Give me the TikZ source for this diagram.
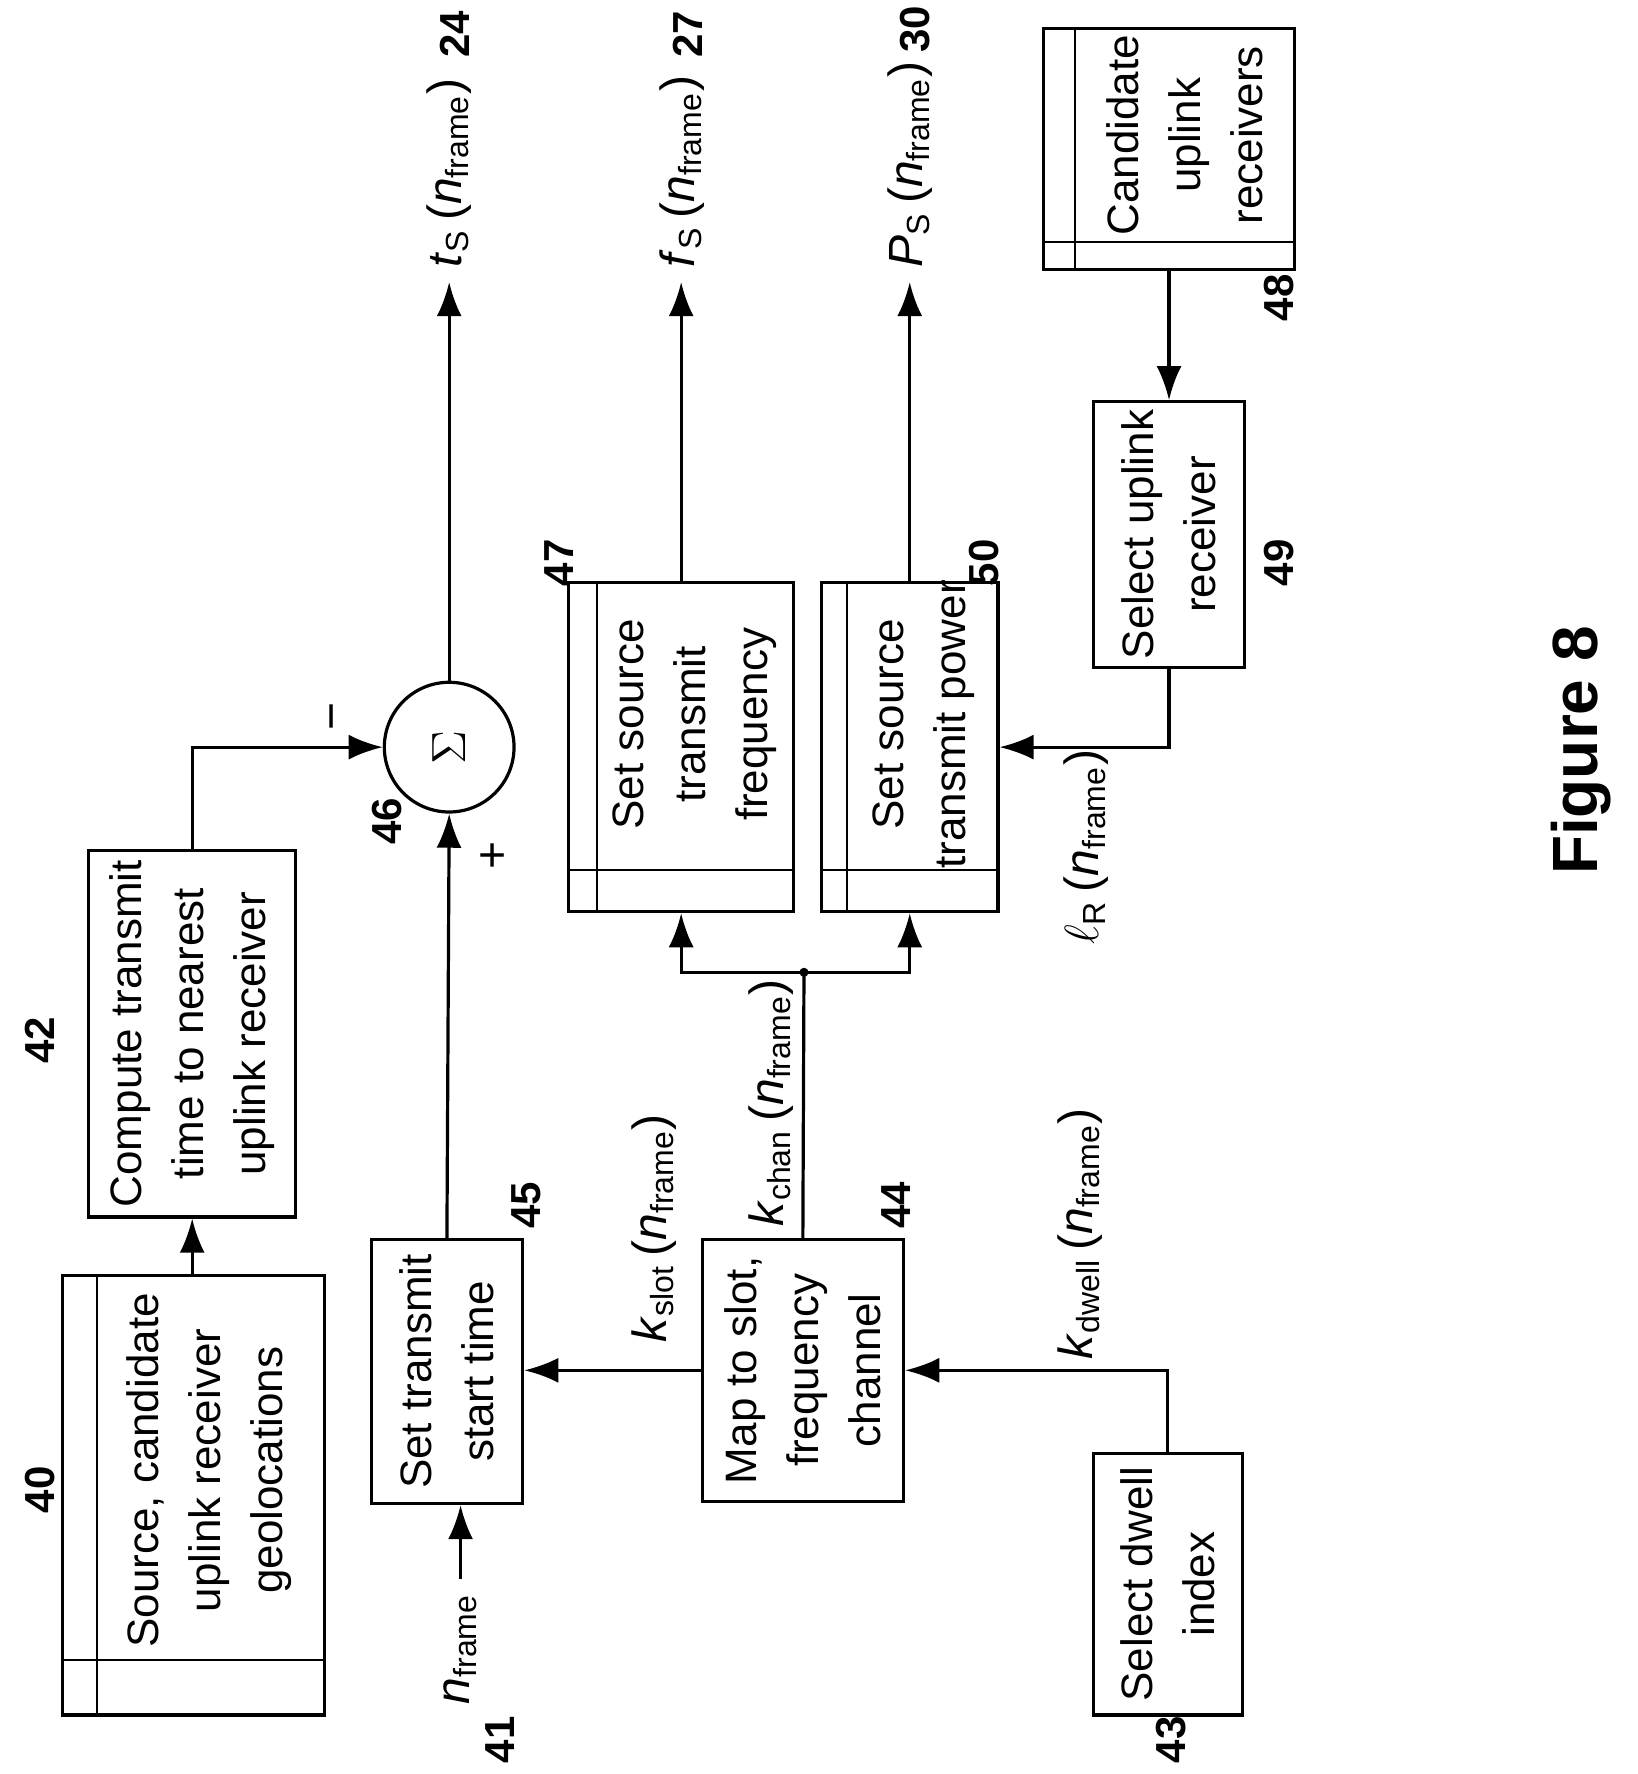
\documentclass[tikz,border=0pt]{standalone}
\usepackage{fontspec}
\setmainfont{Liberation Sans}
\usetikzlibrary{arrows.meta,calc,positioning}
\tikzset{>={Latex[length=3mm,width=2.2mm]}}
\newcommand{\sigt}[2]{\textit{#1}\textsubscript{#2}\,(\textit{n}\textsubscript{frame})}
\begin{document}
\begin{tikzpicture}[x=0.01cm, y=-0.01cm, font=\fontsize{11}{15.5}\selectfont,
    blk/.style={draw, rotate=90, align=center, inner sep=2pt},
    txt/.style={rotate=90, align=center},
    num/.style={rotate=90, font=\fontsize{10.5}{12}\selectfont\bfseries},
    sig/.style={rotate=90, font=\fontsize{12}{14}\selectfont},
    line width=0.8pt]
	\useasboundingbox (0,0) rectangle (1440,1560);
	% blocks
	\node[blk, minimum width=3.86cm, minimum height=2.30cm] (geo)   at (170,1315) {};
	\node[txt] (geo-t) at ($(geo)+(14,-22)$) {Source, candidate\\uplink receiver\\geolocations};
	\node[blk, minimum width=3.22cm, minimum height=1.82cm] (ttime) at (169,909)  {Compute transmit\\time to nearest\\uplink receiver};
	\node[blk, minimum width=2.32cm, minimum height=1.33cm] (start) at (393,1206) {Set transmit\\start time};
	\node[blk, minimum width=2.30cm, minimum height=1.77cm] (map)   at (706,1205) {Map to slot,\\frequency\\channel};
	\node[blk, minimum width=2.30cm, minimum height=1.31cm] (dwell) at (1027,1393) {Select dwell\\index};
	\node[blk, minimum width=2.89cm, minimum height=1.98cm] (freq)  at (599,657)  {};
	\node[txt] (freq-t) at ($(freq)+(12,-20)$) {Set source\\transmit\\frequency};
	\node[blk, minimum width=2.89cm, minimum height=1.55cm] (power) at (800,657)  {};
	\node[txt] (power-t) at ($(power)+(12,-20)$) {Set source\\transmit power};
	\node[blk, minimum width=2.12cm, minimum height=2.20cm] (cand)  at (1028,131) {};
	\node[txt] (cand-t) at ($(cand)+(14,-12)$) {Candidate\\uplink\\receivers};
	\node[blk, minimum width=2.30cm, minimum height=1.33cm] (sel)   at (1028,470) {Select uplink\\receiver};
	\node[draw, circle, minimum size=1.14cm, rotate=90, font=\fontsize{13}{15}\selectfont] (sum) at (395,657) {$\Sigma$};
	% strips
	\draw[line width=0.5pt] (85,1122) -- (85,1508) (55,1460) -- (285,1460);
	\draw[line width=0.5pt] (525,513) -- (525,802) (500,765) -- (698,765);
	\draw[line width=0.5pt] (745,513) -- (745,802) (723,765) -- (878,765);
	\draw[line width=0.5pt] (945,25) -- (945,237) (918,213) -- (1138,213);
	% signals
	\node[sig] (nin)   at (405,1450) {\textit{n}\textsubscript{frame}};
	\node[sig, anchor=west] (ts) at (395,248) {\sigt{t}{S}};
	\node[sig, anchor=west] (fs) at (600,248) {\sigt{f}{S}};
	\node[sig, anchor=west] (ps) at (800,248) {\sigt{P}{S}};
	\node[sig] at (575,1080) {\sigt{k}{slot}};
	\node[sig] at (678,970)  {\sigt{k}{chan}};
	\node[sig] at (950,1085) {\sigt{k}{dwell}};
	\node[sig] at (955,745)  {\sigt{$\ell$}{R}};
	\node[sig] at (435,752) {+};
	\node[sig] at (298,630) {\textminus};
	% numbers
	\node[num] at (35,1310) {40};
	\node[num] at (440,1530) {41};
	\node[num] at (35,915) {42};
	\node[num] at (1030,1530) {43};
	\node[num] at (788,1060) {44};
	\node[num] at (463,1060) {45};
	\node[num] at (340,722) {46};
	\node[num] at (492,495) {47};
	\node[num] at (1125,262) {48};
	\node[num] at (1125,495) {49};
	\node[num] at (865,495) {50};
	\node[num] at (400,30) {24};
	\node[num] at (605,30) {27};
	\node[num] at (805,26) {30};
	\node[rotate=90, font=\fontsize{16}{18}\selectfont\bfseries] at (1390,660) {Figure 8};
	% connectors
	\coordinate (chan) at (707,855);
	\draw[->] (nin.east) -- (nin.east |- start.west);
	\draw[->] (geo.east -| ttime.west) -- (ttime.west);
	\draw[->] (ttime.east) |- (sum.north);
	\draw[->] (start.east) -- (sum.west);
	\draw[->] (sum.east) -- (ts.west -| sum.east);
	\draw[->] (map.north) -- (map.north -| start.south);
	\draw[->] (dwell.east) |- (map.south);
	\draw (map.east) -- (chan);
	\fill (chan) circle (4);
	\draw[->] (chan) -| (freq.west);
	\draw[->] (chan) -| (power.west);
	\draw[->] (freq.east) -- (fs.west -| freq.east);
	\draw[->] (power.east) -- (ps.west -| power.east);
	\draw[->] (cand.west) -- (sel.east);
	\draw[->] (sel.west) |- (power.south);
\end{tikzpicture}
\end{document}
